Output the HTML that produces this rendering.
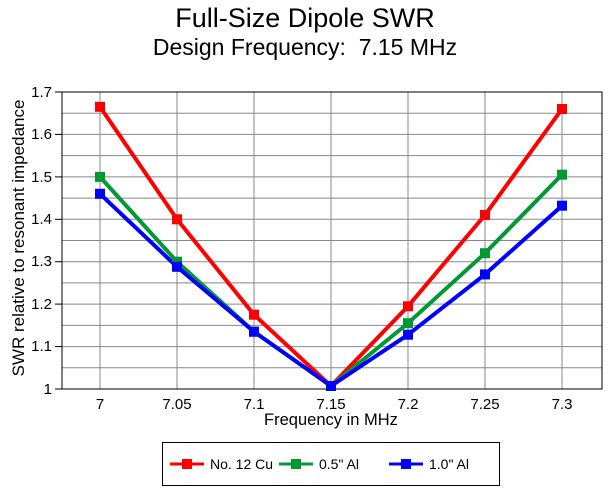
<!DOCTYPE html><html><head><style>body{margin:0;background:#fff}svg{display:block}text{font-family:"Liberation Sans",Arial,sans-serif}</style></head><body>
<svg width="609" height="490" viewBox="0 0 609 490">
<text x="305" y="27" font-size="27" text-anchor="middle">Full-Size Dipole SWR</text>
<text x="305" y="55" font-size="23" text-anchor="middle" xml:space="preserve">Design Frequency:&#160; 7.15 MHz</text>
<g stroke="#888" stroke-width="1">
<line x1="62" x2="602" y1="113.2" y2="113.2"/><line x1="62" x2="602" y1="134.4" y2="134.4"/><line x1="62" x2="602" y1="155.6" y2="155.6"/><line x1="62" x2="602" y1="176.9" y2="176.9"/><line x1="62" x2="602" y1="198.1" y2="198.1"/><line x1="62" x2="602" y1="219.3" y2="219.3"/><line x1="62" x2="602" y1="240.5" y2="240.5"/><line x1="62" x2="602" y1="261.7" y2="261.7"/><line x1="62" x2="602" y1="282.9" y2="282.9"/><line x1="62" x2="602" y1="304.1" y2="304.1"/><line x1="62" x2="602" y1="325.4" y2="325.4"/><line x1="62" x2="602" y1="346.6" y2="346.6"/><line x1="62" x2="602" y1="367.8" y2="367.8"/>
<line x1="100" x2="100" y1="92" y2="389"/><line x1="177" x2="177" y1="92" y2="389"/><line x1="254" x2="254" y1="92" y2="389"/><line x1="331" x2="331" y1="92" y2="389"/><line x1="408" x2="408" y1="92" y2="389"/><line x1="485" x2="485" y1="92" y2="389"/><line x1="562" x2="562" y1="92" y2="389"/>
</g>
<g stroke="#000" stroke-width="1"><rect x="62" y="92" width="540" height="297" fill="none"/>
<line x1="55" x2="62" y1="92" y2="92"/><line x1="55" x2="62" y1="134.4" y2="134.4"/><line x1="55" x2="62" y1="176.9" y2="176.9"/><line x1="55" x2="62" y1="219.3" y2="219.3"/><line x1="55" x2="62" y1="261.7" y2="261.7"/><line x1="55" x2="62" y1="304.1" y2="304.1"/><line x1="55" x2="62" y1="346.6" y2="346.6"/><line x1="55" x2="62" y1="389" y2="389"/></g>
<g font-size="15" text-anchor="end"><text x="52" y="97">1.7</text><text x="52" y="139">1.6</text><text x="52" y="182">1.5</text><text x="52" y="224">1.4</text><text x="52" y="266">1.3</text><text x="52" y="309">1.2</text><text x="52" y="351">1.1</text><text x="52" y="394">1</text></g>
<g font-size="15" text-anchor="middle"><text x="100" y="409">7</text><text x="177" y="409">7.05</text><text x="254" y="409">7.1</text><text x="331" y="409">7.15</text><text x="408" y="409">7.2</text><text x="485" y="409">7.25</text><text x="562" y="409">7.3</text></g>
<text x="331" y="425" font-size="16.5" text-anchor="middle">Frequency in MHz</text>
<text transform="translate(24,238) rotate(-90)" font-size="17" text-anchor="middle">SWR relative to resonant impedance</text>
<g fill="none" stroke-width="4" stroke-linejoin="round">
<polyline stroke="#f00" points="100,106.8 177,219.3 254,314.7 331,386 408,306.3 485,215 562,109"/>
<polyline stroke="#093" points="100,176.9 177,261.7 254,331.7 331,386 408,323.2 485,253.2 562,174.7"/>
<polyline stroke="#00f" points="100,193.8 177,266.8 254,331.7 331,386 408,334.7 485,274.4 562,205.7"/>
</g>
<g fill="#f00"><rect x="95" y="101.8" width="10" height="10"/><rect x="172" y="214.3" width="10" height="10"/><rect x="249" y="309.7" width="10" height="10"/><rect x="326" y="381" width="10" height="10"/><rect x="403" y="301.3" width="10" height="10"/><rect x="480" y="210" width="10" height="10"/><rect x="557" y="104" width="10" height="10"/></g>
<g fill="#093"><rect x="95" y="171.9" width="10" height="10"/><rect x="172" y="256.7" width="10" height="10"/><rect x="249" y="326.7" width="10" height="10"/><rect x="326" y="381" width="10" height="10"/><rect x="403" y="318.2" width="10" height="10"/><rect x="480" y="248.2" width="10" height="10"/><rect x="557" y="169.7" width="10" height="10"/></g>
<g fill="#00f"><rect x="95" y="188.8" width="10" height="10"/><rect x="172" y="261.8" width="10" height="10"/><rect x="249" y="326.7" width="10" height="10"/><rect x="326" y="381" width="10" height="10"/><rect x="403" y="329.7" width="10" height="10"/><rect x="480" y="269.4" width="10" height="10"/><rect x="557" y="200.7" width="10" height="10"/></g>
<rect x="162.5" y="442.5" width="337" height="43" fill="none" stroke="#000"/>
<g stroke-width="3"><line x1="170" x2="204" y1="464" y2="464" stroke="#f00"/><line x1="279" x2="313" y1="464" y2="464" stroke="#093"/><line x1="389" x2="423" y1="464" y2="464" stroke="#00f"/></g>
<rect x="182" y="459" width="10" height="10" fill="#f00"/><rect x="291" y="459" width="10" height="10" fill="#093"/><rect x="401" y="459" width="10" height="10" fill="#00f"/>
<g font-size="14"><text x="210" y="469">No. 12 Cu</text><text x="319" y="469">0.5" Al</text><text x="429" y="469">1.0" Al</text></g>
</svg></body></html>
